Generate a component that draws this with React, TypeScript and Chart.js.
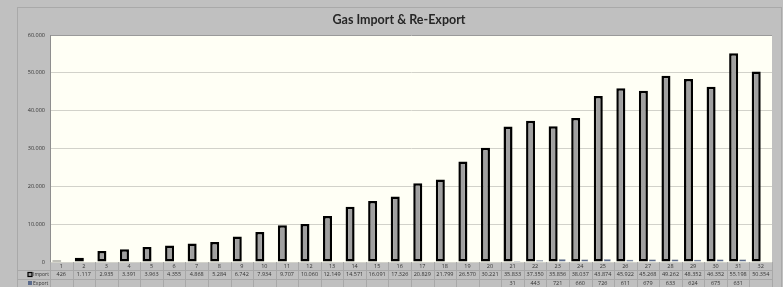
import React, { useEffect, useRef } from "react";
import { Chart, registerables } from "chart.js";

Chart.register(...registerables);

const categories = ["1","2","3","4","5","6","7","8","9","10","11","12","13","14","15","16","17","18","19","20","21","22","23","24","25","26","27","28","29","30","31","32"];
const importValues = [426,1117,2935,3391,3963,4355,4868,5284,6742,7934,9707,10060,12149,14571,16091,17326,20829,21799,26570,30221,35833,37350,35856,38037,43874,45922,45268,49262,48352,46352,55198,50354];
const exportValues: (number | null)[] = [null,null,null,null,null,null,null,null,null,null,null,null,null,null,null,null,null,null,null,null,31,443,721,660,726,611,679,633,624,675,631,null];
const yTicks = [0,10000,20000,30000,40000,50000,60000];
const titleText = "Gas Import & Re-Export";
const seriesNames = ["Import", "Export"];

const fmt = (v: number) => v.toLocaleString("de-DE");

export default function App() {
  const ref = useRef<HTMLCanvasElement | null>(null);
  useEffect(() => {
    document.body.style.margin = "0";
    const canvas = ref.current!;
    const decor = {
      id: "decor",
      beforeDraw(chart: any) {
        const { ctx, chartArea } = chart;
        ctx.save();
        ctx.fillStyle = "#c0c0c0";
        ctx.fillRect(0, 0, chart.width, chart.height);
        ctx.fillStyle = "#fffff5";
        ctx.fillRect(chartArea.left, chartArea.top, chartArea.right - chartArea.left, chartArea.bottom - chartArea.top);
        ctx.strokeStyle = "#a9a9a9";
        ctx.lineWidth = 1;
        ctx.strokeRect(17.5, 7.5, 764, 290);
        ctx.fillStyle = "#262626";
        ctx.font = "bold 12.5px Lato, 'Open Sans', sans-serif";
        ctx.textAlign = "center";
        ctx.textBaseline = "middle";
        ctx.fillText(titleText, 399, 20);
        ctx.restore();
      },
      afterDraw(chart: any) {
        const { ctx, chartArea } = chart;
        const x = chart.scales.x;
        const left = chartArea.left;
        const right = chartArea.right;
        const slot = (right - left) / categories.length;
        const y0 = chartArea.bottom;
        const rows = [y0, y0 + 8, y0 + 17, y0 + 26];
        ctx.save();
        ctx.strokeStyle = "#a8a8a8";
        ctx.lineWidth = 1;
        ctx.beginPath();
        for (let r = 1; r < rows.length; r++) {
          ctx.moveTo(17, Math.round(rows[r]) + 0.5);
          ctx.lineTo(right, Math.round(rows[r]) + 0.5);
        }
        for (let i = 0; i <= categories.length; i++) {
          const xx = Math.round(left + i * slot) + 0.5;
          ctx.moveTo(xx, y0);
          ctx.lineTo(xx, rows[3]);
        }
        ctx.stroke();
        ctx.fillStyle = "#333";
        ctx.font = "5.5px 'Open Sans', sans-serif";
        ctx.textAlign = "center";
        ctx.textBaseline = "middle";
        categories.forEach((c, i) => {
          const cx = x.getPixelForValue(i);
          ctx.fillText(c, cx, (rows[0] + rows[1]) / 2 + 0.5);
          ctx.fillText(fmt(importValues[i]), cx, (rows[1] + rows[2]) / 2);
          const e = exportValues[i];
          if (e !== null && e !== undefined) ctx.fillText(fmt(e), cx, (rows[2] + rows[3]) / 2);
        });
        // legend keys
        ctx.fillStyle = "#a0a0a0";
        ctx.fillRect(28, rows[1] + 2.5, 4, 4);
        ctx.strokeStyle = "#000";
        ctx.lineWidth = 1.2;
        ctx.strokeRect(28, rows[1] + 2.5, 4, 4);
        ctx.fillStyle = "#5b6b8c";
        ctx.fillRect(28, rows[2] + 2, 4, 4);
        ctx.fillStyle = "#333";
        ctx.textAlign = "left";
        ctx.font = "5px 'Open Sans', sans-serif";
        ctx.fillText(seriesNames[0], 33, (rows[1] + rows[2]) / 2);
        ctx.fillText(seriesNames[1], 33, (rows[2] + rows[3]) / 2);
        ctx.restore();
      },
    };
    const chart = new Chart(canvas, {
      type: "bar",
      data: {
        labels: categories,
        datasets: [
          {
            label: seriesNames[0],
            data: importValues,
            backgroundColor: "#a0a0a0",
            borderColor: "#000000",
            borderWidth: 2.5,
            borderSkipped: false,
            barPercentage: 1,
            categoryPercentage: 0.8,
          },
          {
            label: seriesNames[1],
            data: exportValues,
            backgroundColor: "#5b6b8c",
            borderColor: "#44516e",
            borderWidth: 0.5,
            barPercentage: 0.75,
            categoryPercentage: 0.8,
          },
        ],
      },
      options: {
        responsive: false,
        animation: false,
        layout: { padding: { left: 17, right: 11, top: 35, bottom: 25 } },
        plugins: { legend: { display: false }, title: { display: false }, tooltip: { enabled: false } },
        scales: {
          x: { display: false, grid: { display: false } },
          y: {
            min: 0,
            max: 60000,
            afterFit: (s: any) => { s.width = 33; },
            afterBuildTicks: (s: any) => { s.ticks = yTicks.map((v) => ({ value: v })); },
            ticks: {
              font: { size: 5.5, family: "'Open Sans', sans-serif" },
              color: "#333",
              padding: 5,
              callback: (v: any) => fmt(Number(v)),
            },
            grid: {
              color: (c: any) => (c.tick && c.tick.value === 60000 ? "#9a9a9a" : "#d2d2ca"),
              lineWidth: 1,
              drawTicks: false,
            },
            border: { display: true, color: "#8e8e8e", width: 1 },
          },
        },
      },
      plugins: [decor],
    });
    return () => chart.destroy();
  }, []);
  return (
    <div style={{ position: "fixed", left: 0, top: 0, width: 783, height: 287, background: "#c0c0c0" }}>
      <canvas ref={ref} width={783} height={287} style={{ display: "block" }} />
    </div>
  );
}
